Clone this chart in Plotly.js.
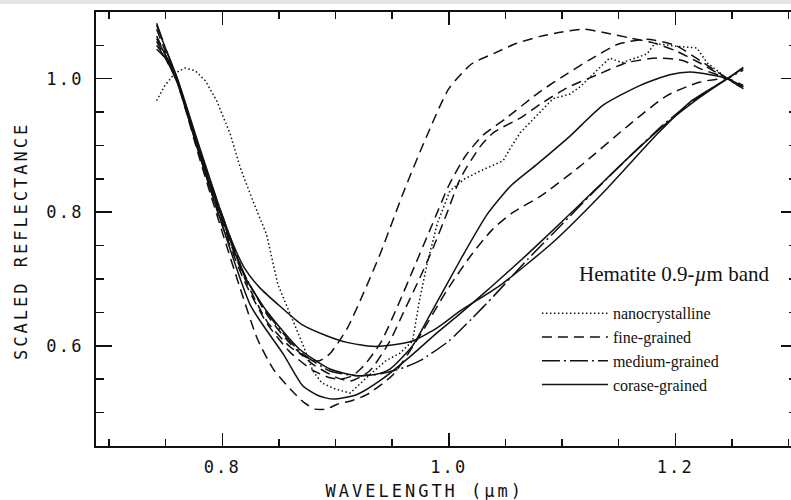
<!DOCTYPE html>
<html>
<head>
<meta charset="utf-8">
<script src="https://cdn.plot.ly/plotly-3.0.1.min.js"></script>
<style>
  html, body { margin:0; padding:0; overflow:hidden; background:#fff; }
  #topbar { position:fixed; top:0; left:0; width:100%; height:4px; background:#e4e4e4; z-index:10; }
  #chart { width:800px; height:500px; }
  .xtick text, .ytick text { letter-spacing: 2.2px; }
  .annotation[data-index="0"] text, .annotation[data-index="1"] text { letter-spacing: 3.0px; }
</style>
</head>
<body>
<div id="topbar"></div>
<div id="chart"></div>
<script>
// ---- data (wavelength in micrometres, scaled reflectance) ----
const nanoX = [0.742,0.749,0.758,0.767,0.776,0.785,0.795,0.807,0.816,0.827,0.839,0.849,0.860,0.871,0.880,0.888,0.900,0.913,0.926,0.944,0.957,0.968,0.974,0.981,0.990,1.001,1.014,1.028,1.048,1.054,1.063,1.092,1.107,1.116,1.142,1.153,1.175,1.182,1.198,1.219,1.228,1.246,1.260];
const nanoY = [0.967,0.989,1.008,1.016,1.012,0.997,0.967,0.917,0.866,0.817,0.767,0.692,0.647,0.602,0.562,0.544,0.535,0.529,0.550,0.577,0.589,0.607,0.667,0.724,0.784,0.832,0.850,0.862,0.877,0.895,0.919,0.970,0.977,0.988,1.031,1.024,1.037,1.053,1.049,1.046,1.024,1.000,0.985];

const fine1X = [0.742,0.75,0.76,0.78,0.80,0.82,0.84,0.86,0.875,0.885,0.895,0.91,0.925,0.94,0.96,0.98,1.00,1.02,1.04,1.06,1.08,1.10,1.12,1.14,1.16,1.18,1.20,1.22,1.246,1.26];
const fine1Y = [1.064,1.035,0.998,0.89,0.785,0.70,0.635,0.598,0.582,0.577,0.588,0.625,0.68,0.74,0.83,0.912,0.985,1.022,1.038,1.053,1.063,1.070,1.074,1.068,1.061,1.054,1.042,1.025,1.0,0.988];

const fine2X = [0.742,0.75,0.76,0.78,0.80,0.82,0.84,0.86,0.88,0.895,0.905,0.915,0.925,0.94,0.955,0.97,0.985,1.00,1.015,1.03,1.05,1.08,1.105,1.125,1.15,1.175,1.20,1.222,1.246,1.26];
const fine2Y = [1.056,1.03,0.995,0.885,0.78,0.695,0.632,0.59,0.563,0.552,0.55,0.555,0.57,0.605,0.66,0.72,0.78,0.84,0.885,0.915,0.94,0.98,1.008,1.029,1.052,1.059,1.05,1.027,1.0,0.985];

const fine3X = [0.742,0.75,0.76,0.78,0.80,0.82,0.84,0.86,0.88,0.90,0.913,0.93,0.948,0.96,0.974,0.986,0.998,1.01,1.028,1.04,1.063,1.081,1.104,1.134,1.157,1.184,1.207,1.222,1.246,1.26];
const fine3Y = [1.074,1.04,1.0,0.893,0.79,0.705,0.645,0.603,0.572,0.553,0.547,0.562,0.607,0.65,0.70,0.746,0.797,0.85,0.899,0.92,0.941,0.962,0.986,1.008,1.024,1.031,1.027,1.015,1.0,0.985];

const fine4X = [0.742,0.75,0.76,0.78,0.80,0.815,0.831,0.845,0.86,0.872,0.882,0.892,0.901,0.915,0.928,0.951,0.974,0.998,1.019,1.039,1.057,1.081,1.116,1.16,1.193,1.222,1.246,1.26];
const fine4Y = [1.044,1.03,0.995,0.88,0.77,0.69,0.61,0.565,0.535,0.515,0.505,0.505,0.512,0.518,0.527,0.557,0.614,0.682,0.734,0.775,0.80,0.824,0.869,0.932,0.975,0.995,1.0,0.99];

const mediumX = [0.742,0.75,0.76,0.78,0.80,0.82,0.84,0.868,0.895,0.92,0.94,0.96,0.975,1.00,1.02,1.04,1.07,1.10,1.13,1.16,1.19,1.22,1.246,1.26];
const mediumY = [1.083,1.045,1.0,0.893,0.795,0.705,0.648,0.592,0.562,0.555,0.558,0.567,0.578,0.607,0.64,0.675,0.73,0.782,0.834,0.884,0.932,0.972,1.0,1.013];

const coarse1X = [0.742,0.75,0.76,0.78,0.80,0.81,0.82,0.833,0.851,0.87,0.892,0.91,0.933,0.95,0.968,0.99,1.01,1.045,1.092,1.14,1.184,1.213,1.246,1.26];
const coarse1Y = [1.08,1.045,1.002,0.897,0.795,0.75,0.715,0.687,0.659,0.632,0.615,0.605,0.599,0.601,0.607,0.627,0.652,0.69,0.755,0.836,0.917,0.965,1.0,1.017];

const coarse2X = [0.742,0.75,0.76,0.78,0.80,0.82,0.84,0.868,0.895,0.918,0.935,0.948,0.968,0.983,1.01,1.034,1.055,1.078,1.107,1.136,1.169,1.195,1.213,1.231,1.246,1.26];
const coarse2Y = [1.06,1.035,0.998,0.89,0.79,0.703,0.65,0.595,0.565,0.555,0.557,0.565,0.6,0.645,0.728,0.797,0.84,0.872,0.914,0.96,0.99,1.006,1.01,1.006,1.0,0.988];

const coarse3X = [0.742,0.75,0.76,0.78,0.80,0.825,0.854,0.871,0.885,0.898,0.919,0.942,0.966,0.99,1.01,1.04,1.07,1.10,1.13,1.16,1.19,1.22,1.246,1.26];
const coarse3Y = [1.05,1.03,0.996,0.885,0.78,0.66,0.587,0.54,0.525,0.52,0.527,0.551,0.584,0.62,0.648,0.692,0.738,0.786,0.835,0.884,0.93,0.97,1.0,1.016];

const groupNames = ['nanocrystalline','fine-grained','medium-grained','corase-grained'];
const xTickVals = [0.8, 1.0, 1.2];
const xTickText = ['0.8', '1.0', '1.2'];
const yTickVals = [0.6, 0.8, 1.0];
const yTickText = ['0.6', '0.8', '1.0'];

// ---- styles ----
const dashStyles = ['1.5px,2.5px', '10px,6px', '18px,4px,2px,4px', 'solid'];
const lineW = 1.5;

function tr(x, y, g, show, shape) {
  return {
    type: 'scatter', mode: 'lines', x: x, y: y,
    name: groupNames[g], legendgroup: 'g' + g, showlegend: show,
    line: {color: '#111', width: lineW, dash: dashStyles[g], shape: shape || 'spline', smoothing: 0.6},
    hoverinfo: 'skip'
  };
}

const data = [
  tr(nanoX, nanoY, 0, true, 'linear'),
  tr(fine1X, fine1Y, 1, true),
  tr(fine2X, fine2Y, 1, false),
  tr(fine3X, fine3Y, 1, false),
  tr(fine4X, fine4Y, 1, false),
  tr(mediumX, mediumY, 2, true),
  tr(coarse1X, coarse1Y, 3, true),
  tr(coarse2X, coarse2Y, 3, false),
  tr(coarse3X, coarse3Y, 3, false)
];

const axFont = {family: 'DejaVu Sans Mono, monospace', size: 17, color: '#111'};

const layout = {
  width: 800, height: 500,
  margin: {l: 96, r: 3, t: 12, b: 54},
  paper_bgcolor: '#fff', plot_bgcolor: '#fff',
  showlegend: true,
  legend: {
    x: 0.629, y: 0.345, xanchor: 'left', yanchor: 'top',
    font: {family: 'Liberation Serif, serif', size: 16, color: '#111'},
    bgcolor: 'rgba(0,0,0,0)', borderwidth: 0, tracegroupgap: 0,
    itemwidth: 66
  },
  xaxis: {
    range: [0.68847, 1.30745], showgrid: false, zeroline: false,
    showline: true, linecolor: '#111', linewidth: 2, mirror: 'ticks',
    ticks: 'inside', ticklen: 13, tickwidth: 1.6, tickcolor: '#111',
    tickmode: 'array', tickvals: xTickVals, ticktext: xTickText,
    tickfont: axFont, ticklabelstandoff: 5,
    minor: {tickmode: 'linear', tick0: 0, dtick: 0.05, ticks: 'inside', ticklen: 7, tickwidth: 1.4, tickcolor: '#111', showgrid: false}
  },
  yaxis: {
    range: [0.44974, 1.0999], showgrid: false, zeroline: false,
    showline: true, linecolor: '#111', linewidth: 2, mirror: 'ticks',
    ticks: 'inside', ticklen: 16, tickwidth: 1.6, tickcolor: '#111',
    tickmode: 'array', tickvals: yTickVals, ticktext: yTickText,
    tickfont: axFont, ticklabelstandoff: 7,
    minor: {tickmode: 'linear', tick0: 0, dtick: 0.05, ticks: 'inside', ticklen: 8, tickwidth: 1.4, tickcolor: '#111', showgrid: false}
  },
  annotations: [
    {text: 'WAVELENGTH (\u00b5m)', xref: 'paper', yref: 'paper', x: 0.4693, y: -0.1037,
     xanchor: 'center', yanchor: 'middle', showarrow: false, font: axFont},
    {text: 'SCALED REFLECTANCE', xref: 'paper', yref: 'paper', x: -0.107, y: 0.4724,
     xanchor: 'center', yanchor: 'middle', textangle: -90, showarrow: false, font: axFont},
    {text: 'Hematite 0.9-<i>\u00b5</i>m band', xref: 'paper', yref: 'paper', x: 0.6862, y: 0.3963,
     xanchor: 'left', yanchor: 'middle', showarrow: false,
     font: {family: 'Liberation Serif, serif', size: 21, color: '#111'}}
  ]
};

Plotly.newPlot('chart', data, layout, {staticPlot: true, displayModeBar: false});
</script>
</body>
</html>
